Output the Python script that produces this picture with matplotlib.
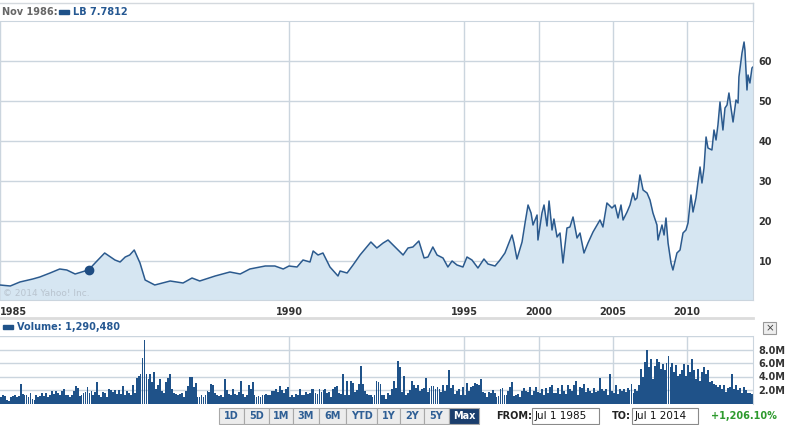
import numpy as np
import matplotlib.pyplot as plt
from matplotlib.patches import Rectangle
from matplotlib.lines import Line2D

W, H = 794, 425

# ---- price (LB), decimal years ----
price_years = [
    1985.50, 1985.66, 1985.81, 1986.01, 1986.12, 1986.28, 1986.43, 1986.54, 1986.67, 1986.88,
    1987.01, 1987.13, 1987.29, 1987.37, 1987.45, 1987.52, 1987.59, 1987.68, 1987.76, 1987.91,
    1988.15, 1988.35, 1988.49, 1988.61, 1988.85, 1989.08, 1989.24, 1989.39, 1989.63, 1989.78,
    1989.91, 1990.00, 1990.23, 1990.40, 1990.60, 1990.69, 1990.83, 1990.97, 1991.17, 1991.40,
    1991.46, 1991.66, 1991.83, 1992.03, 1992.34, 1992.51, 1992.69, 1992.83, 1993.03, 1993.26,
    1993.40, 1993.54, 1993.71, 1993.86, 1993.97, 1994.11, 1994.23, 1994.40, 1994.54, 1994.66,
    1994.80, 1994.97, 1995.20, 1995.53, 1995.93, 1996.33, 1996.60, 1997.07, 1997.40, 1997.73,
    1998.20, 1998.33, 1998.53, 1998.87, 1999.07, 1999.27, 1999.47, 1999.60, 1999.87, 1999.93,
    2000.20, 2000.34, 2000.54, 2000.68, 2000.88, 2001.01, 2001.22, 2001.42, 2001.62, 2001.89,
    2002.09, 2002.30, 2002.57, 2002.77, 2003.04, 2003.31, 2003.65, 2004.12, 2004.32, 2004.59,
    2004.93, 2005.14, 2005.34, 2005.54, 2005.68, 2005.95, 2006.15, 2006.35, 2006.49, 2006.62,
    2006.82, 2007.03, 2007.30, 2007.50, 2007.70, 2007.97, 2008.04, 2008.31, 2008.45, 2008.58,
    2008.72, 2008.92, 2009.05, 2009.32, 2009.53, 2009.73, 2009.93, 2010.07, 2010.27, 2010.41,
    2010.61, 2010.75, 2010.89, 2011.02, 2011.16, 2011.30, 2011.43, 2011.70, 2011.84, 2011.98,
    2012.11, 2012.25, 2012.45, 2012.59, 2012.73, 2012.86, 2013.00, 2013.14, 2013.34, 2013.48,
    2013.54, 2013.75, 2013.89, 2013.95, 2014.09, 2014.16, 2014.29, 2014.43, 2014.50,
]
price_values = [
    4.0, 3.75, 4.75, 5.5, 6.0, 7.0, 8.0, 7.75, 6.75, 7.78,
    10.0, 12.0, 10.25, 9.75, 11.0, 11.5, 12.75, 9.5, 5.25, 4.0,
    5.0, 4.5, 5.75, 5.0, 6.25, 7.25, 6.75, 8.0, 8.75, 8.75,
    8.0, 8.75, 8.5, 10.25, 9.75, 12.5, 11.5, 12.0, 8.5, 6.25,
    7.5, 7.0, 9.0, 11.5, 14.75, 13.25, 14.5, 15.25, 13.5, 11.5,
    13.25, 13.5, 15.0, 10.75, 11.0, 13.5, 11.5, 10.75, 8.5, 10.0,
    9.0, 8.5, 11.0, 10.25, 8.25, 10.5, 9.25, 8.75, 10.25, 12.0,
    16.5, 14.5, 10.5, 14.75, 19.5, 24.0, 22.0, 19.0, 21.5, 15.25,
    22.0, 24.0, 18.75, 25.0, 17.75, 20.5, 16.0, 17.0, 9.5, 18.25,
    18.5, 21.0, 15.75, 17.0, 12.0, 14.5, 17.25, 20.25, 18.5, 24.5,
    23.25, 24.0, 20.75, 24.0, 20.25, 22.25, 24.0, 27.0, 25.25, 25.75,
    31.5, 27.75, 27.0, 25.25, 22.0, 19.0, 15.25, 19.0, 16.5, 20.75,
    14.5, 9.5, 7.75, 12.0, 12.75, 17.0, 17.75, 19.5, 26.5, 22.25,
    25.75, 29.75, 33.5, 29.5, 33.25, 41.0, 38.25, 37.75, 42.75, 40.25,
    44.0, 49.75, 42.75, 48.25, 49.0, 52.0, 48.25, 44.75, 50.25, 49.5,
    56.0, 62.0, 64.75, 62.75, 52.75, 56.5, 54.5, 58.25, 58.5,
]

hover_label = 'Nov 1986'
hover_year = 1986.88
hover_value = 7.7812
volume_last = '1,290,480'
change_text = '+1,206.10%'
date_from = 'Jul 1 1985'
date_to = 'Jul 1 2014'

# ---- volume in millions, one list per period between axis anchors ----
vol_1985 = [
    1.0, 1.2, 1.1, 0.45, 0.35, 0.9, 1.1, 1.2, 0.9, 1.1, 2.9, 1.4, 1.3, 1.2, 0.9, 1.6, 0.7, 0.5, 1.2, 0.9,
    1.1, 1.5, 1.1, 1.5, 1.0, 1.3, 1.9, 1.4, 1.9, 1.6, 1.2, 1.8, 2.1, 1.3, 1.2, 1.0, 1.2, 1.8, 2.6, 2.3,
    1.1, 1.2, 1.6, 1.7, 2.4, 1.6, 1.9, 1.2, 1.7, 3.2, 1.3, 1.0, 1.7, 1.5, 1.0, 2.2, 2.0, 1.7, 2.0, 1.4,
    2.0, 1.4, 2.6, 1.3, 1.8, 1.5, 1.3, 2.7, 1.6, 3.8, 4.1, 4.4, 6.8, 9.4, 4.4, 3.7, 4.4, 3.2, 4.6, 2.2,
    2.7, 3.7, 1.8, 1.6, 3.2, 3.8, 4.4, 2.1, 1.6, 1.4, 1.2, 1.4, 1.5, 1.0, 1.8, 2.6,
    3.9, 4.0, 2.4, 3.1, 1.0, 0.9, 1.3, 1.0, 1.2, 1.8, 1.7, 2.9, 2.7, 1.5, 1.3, 1.1, 1.3, 1.0, 3.6, 2.0,
    1.4, 1.2, 2.2, 1.4, 1.3, 1.7, 3.4, 1.4, 0.9, 1.3, 2.7, 2.2, 3.2, 1.3, 0.9, 1.1, 1.0, 1.3, 1.2, 1.4,
    1.2, 1.3, 1.9, 1.8, 2.1, 1.7, 2.6, 2.0, 1.6, 2.2, 2.4,
]
vol_1990 = [
    0.9, 1.3, 1.0, 1.4, 1.3, 2.1, 1.3, 1.2, 1.7, 1.4, 1.6, 2.1, 2.1, 1.6, 1.4, 2.2, 1.7, 2.0, 2.2, 1.5,
    1.7, 1.0, 2.1, 2.4, 2.6, 1.5, 1.4, 4.4, 1.2, 3.4, 1.3, 3.3, 3.1, 1.7, 2.0, 2.9, 5.5, 2.9, 1.8, 1.4,
    1.2, 1.3, 0.9, 1.3, 3.4, 3.2,
    2.9, 1.3, 1.2, 0.7, 1.6, 1.2, 2.2, 3.4, 2.3, 6.3, 5.4, 1.7, 4.1, 1.3, 1.5, 2.0, 3.3, 2.8, 2.3, 2.8,
    1.8, 2.1, 2.3, 3.8, 1.7, 2.3, 2.6, 2.6, 2.1, 2.4, 2.2, 1.7, 2.7, 1.8, 2.7, 5.0, 2.3, 2.7, 1.4, 1.8,
    2.1, 1.3, 2.4,
]
vol_1995 = [
    1.3, 3.1, 1.8, 2.4, 2.6, 3.1, 2.9, 2.7, 3.6, 1.7, 1.5, 1.0, 1.7, 1.5, 2.0, 1.6, 1.0, 1.1, 2.1, 2.3,
    1.2, 1.3, 1.8, 2.5, 3.2, 1.1, 1.2, 1.4, 0.9, 1.9, 2.3, 1.8, 1.7, 2.4, 1.3, 1.8, 2.4, 1.7,
]
vol_2000 = [
    1.5, 2.2, 1.2, 2.3, 1.6, 2.4, 2.8, 1.5, 1.6, 2.3, 1.4, 2.7, 1.8, 1.4, 2.8, 2.2, 1.8, 2.7, 3.3, 1.3,
    2.4, 2.3, 2.9, 1.7, 2.3, 1.8, 1.5, 2.3, 1.7, 1.8, 3.8, 2.1, 1.8, 2.1, 1.3, 4.4, 1.8,
]
vol_2005 = [
    1.6, 2.8, 1.4, 2.1, 1.9, 2.1, 1.7, 2.3, 2.0, 2.9, 1.5, 2.1, 1.8, 2.7, 5.1, 3.9, 6.1, 8.0, 5.4, 6.6,
    3.7, 5.6, 6.6, 6.1, 5.1, 5.9, 4.9, 6.0, 7.1, 5.4, 6.0, 4.6, 5.7, 4.1, 4.4, 5.0, 5.9, 4.1,
]
vol_2010 = [
    5.7, 4.6, 6.6, 4.9, 3.7, 5.1, 3.4, 4.6, 5.4, 4.4, 4.9, 3.2, 3.4, 2.9, 2.8, 2.4, 2.8, 2.2, 2.7, 1.7,
    2.3, 2.4, 4.4, 2.2, 2.7, 2.0, 2.3, 1.6, 2.4, 2.0, 1.6, 1.6, 1.4,
]
vol_periods = [vol_1985, vol_1990, vol_1995, vol_2000, vol_2005, vol_2010]

year_ticks = [1985.5, 1990, 1995, 2000, 2005, 2010]
year_labels = ['1985', '1990', '1995', '2000', '2005', '2010']
price_ticks = [10, 20, 30, 40, 50, 60]
vol_ticks = [2, 4, 6, 8]

buttons = ['1D', '5D', '1M', '3M', '6M', 'YTD', '1Y', '2Y', '5Y', 'Max']
button_w = [25, 25, 24, 26, 27, 31, 23, 24, 25, 30]

# the Yahoo axis is not linear in time: each period gets its own width
anchor_years = [1985.5, 1990, 1995, 2000, 2005, 2010, 2014.5]
anchor_px = [0, 289, 464, 539, 613, 687, 753]


def fwd(x):
    return np.interp(x, anchor_years, anchor_px, left=-1000, right=2000)


def inv(x):
    return np.interp(x, anchor_px, anchor_years)


LINE = '#2b5a8e'
FILL = '#d6e6f2'
BAR = '#1f5289'
GRID = '#cbd5de'
TXT = '#333333'
FS = 7

plt.rcParams['font.family'] = ['DejaVu Sans']

fig = plt.figure(figsize=(W / 100, H / 100), dpi=100)


def fx(x):
    return x / W


def fy(y):
    return 1 - y / H


# ---- main price panel ----
ax = fig.add_axes([0, fy(300), fx(753), (300 - 21) / H])
ax.set_xscale('function', functions=(fwd, inv))
ax.fill_between(price_years, price_values, 0, color=FILL, lw=0)
ax.plot(price_years, price_values, color=LINE, lw=1.1)
ax.plot([hover_year], [hover_value], 'o', ms=6, color='#1e4c82')
ax.set_xlim(1985.5, 2014.5)
ax.set_ylim(0.25, 70)
ax.set_xticks(year_ticks)
ax.set_xticklabels(year_labels)
ax.set_yticks(price_ticks)
ax.yaxis.tick_right()
ax.tick_params(length=0, labelsize=FS, labelcolor=TXT)
ax.tick_params(axis='x', pad=5)
ax.tick_params(axis='y', pad=4)
for lab in ax.get_xticklabels() + ax.get_yticklabels():
    lab.set_fontweight('bold')
ax.get_xticklabels()[0].set_horizontalalignment('left')
ax.grid(True, color=GRID, lw=1)
ax.set_axisbelow(True)
ax.spines['left'].set_visible(False)
for s in ['top', 'right', 'bottom']:
    ax.spines[s].set_color(GRID)
ax.text(0.004, 0.025, '\u00a9 2014 Yahoo! Inc.', transform=ax.transAxes,
        fontsize=6.5, color='#b9c4cf', va='center', ha='left')

# ---- volume panel ----
ax2 = fig.add_axes([0, fy(403.5), fx(753), (403.5 - 336) / H])
ax2.set_xscale('function', functions=(fwd, inv))
for i, vols in enumerate(vol_periods):
    a, b = anchor_years[i], anchor_years[i + 1]
    step = (b - a) / len(vols)
    xs = a + (np.arange(len(vols)) + 0.5) * step
    ax2.bar(xs, vols, width=step * 0.92, color=BAR, lw=0)
ax2.set_xlim(1985.5, 2014.5)
ax2.set_ylim(0, 10)
ax2.set_xticks(year_ticks[1:])
ax2.set_yticks(vol_ticks + [10])
ax2.set_yticklabels([f'{v:.1f}M' for v in vol_ticks] + [''])
ax2.yaxis.tick_right()
ax2.tick_params(length=0, labelsize=FS, labelcolor=TXT, labelbottom=False, pad=4)
for lab in ax2.get_yticklabels():
    lab.set_fontweight('bold')
ax2.grid(True, color=GRID, lw=1)
ax2.set_axisbelow(True)
for s in ['left', 'top', 'bottom']:
    ax2.spines[s].set_visible(False)
ax2.spines['right'].set_color(GRID)

# ---- frame lines and legends ----
fig.add_artist(Line2D([0, fx(753)], [fy(3), fy(3)], color='#d4d9de', lw=1))
fig.add_artist(Line2D([fx(753), fx(753)], [fy(3), fy(21)], color=GRID, lw=1))
fig.add_artist(Line2D([0, fx(753)], [fy(318), fy(318)], color='#dcdcdc', lw=2))

fig.text(fx(2), fy(12), f'{hover_label}:', fontsize=FS, fontweight='bold',
         color='#666666', va='center', ha='left')
fig.add_artist(Rectangle((fx(59), fy(14)), fx(10), 4 / H, color=BAR,
                         transform=fig.transFigure))
fig.text(fx(73), fy(12), f'LB {hover_value}', fontsize=FS, fontweight='bold',
         color='#255892', va='center', ha='left')

fig.add_artist(Rectangle((fx(3), fy(329)), fx(10), 4 / H, color=BAR,
                         transform=fig.transFigure))
fig.text(fx(17), fy(327), f'Volume: {volume_last}', fontsize=FS, fontweight='bold',
         color='#255892', va='center', ha='left')

# close box
fig.add_artist(Rectangle((fx(763), fy(334)), fx(13), 12 / H, transform=fig.transFigure,
                         facecolor='#eeeeee', edgecolor='#999999', lw=0.8))
fig.text(fx(769.5), fy(328), '\u00d7', fontsize=7.5, color='#444444',
         ha='center', va='center')

# ---- range buttons ----
x0 = 219
for lab, w in zip(buttons, button_w):
    sel = lab == 'Max'
    fig.add_artist(Rectangle((fx(x0), fy(424)), fx(w), 16 / H, transform=fig.transFigure,
                             facecolor='#1b3e6d' if sel else '#ececec',
                             edgecolor='#a8a8a8', lw=0.8))
    fig.text(fx(x0 + w / 2), fy(416), lab, fontsize=FS, fontweight='bold',
             color='white' if sel else '#2f5f95', ha='center', va='center')
    x0 += w

fig.text(fx(496), fy(416), 'FROM:', fontsize=FS, fontweight='bold',
         color='#222222', ha='left', va='center')
fig.add_artist(Rectangle((fx(532), fy(424)), fx(67), 16 / H, transform=fig.transFigure,
                         facecolor='white', edgecolor='#8a8a8a', lw=0.8))
fig.text(fx(535), fy(416), date_from, fontsize=FS + 0.5, color='#111111',
         ha='left', va='center')
fig.text(fx(612), fy(416), 'TO:', fontsize=FS, fontweight='bold',
         color='#222222', ha='left', va='center')
fig.add_artist(Rectangle((fx(632), fy(424)), fx(66), 16 / H, transform=fig.transFigure,
                         facecolor='white', edgecolor='#8a8a8a', lw=0.8))
fig.text(fx(635), fy(416), date_to, fontsize=FS + 0.5, color='#111111',
         ha='left', va='center')
fig.text(fx(711), fy(416), change_text, fontsize=FS, fontweight='bold',
         color='#2d9a2d', ha='left', va='center')

fig.savefig('out.png', dpi=100)
